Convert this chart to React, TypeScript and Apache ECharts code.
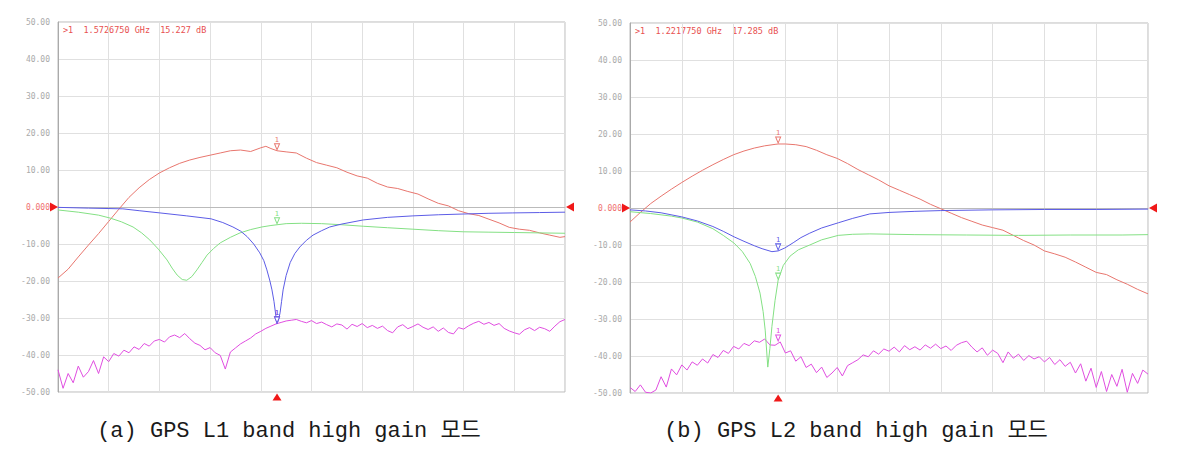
import React, { useEffect, useRef } from "react";
import * as echarts from "echarts";

// x values are percent of frequency span (0..100), y values are dB
const yMin = -50;
const yMax = 50;

const l1Gain: number[][] = [
  [0, -19.2], [2, -16.8], [4, -13.5], [6, -10.3], [8, -7.2], [10, -3.9], [12, -0.6], [14, 2.6], [16, 5.2],
  [18, 7.4], [20, 9.2], [22, 10.6], [24, 11.8], [26, 12.7], [28, 13.4], [30, 14.0], [32, 14.6], [34, 15.2],
  [36, 15.4], [38, 15.0], [40, 16.0], [41, 16.4], [42, 15.8], [43.2, 15.2], [45, 14.9], [47, 14.6], [49, 13.2],
  [51, 12.0], [53, 11.3], [55, 10.6], [57, 9.4], [59, 8.4], [61, 7.8], [63, 6.4], [65, 5.4], [67, 5.0],
  [69, 4.2], [71, 3.5], [73, 2.2], [75, 1.0], [77, 0.3], [79, -1.0], [81, -1.8], [83, -2.3], [85, -3.3],
  [87, -4.3], [89, -5.5], [91, -6.0], [93, -6.3], [95, -7.0], [97, -7.6], [99, -8.2], [100, -8.0],
];

const l1S11: number[][] = [
  [0, -0.1], [6, -0.3], [12.8, -0.5], [16, -1.0], [20.1, -1.6], [25.4, -2.4], [30.2, -3.2], [32.5, -4.2],
  [34.5, -5.4], [36, -6.5], [37.3, -8], [38.6, -10], [39.8, -12.4], [40.6, -14.5], [41.2, -17], [41.8, -20],
  [42.2, -22.4], [42.6, -25.5], [43.0, -29.7], [43.2, -31.6], [43.5, -30.5], [43.8, -28.6], [44.1, -25.5],
  [44.4, -22.4], [45, -18.5], [45.8, -15], [46.7, -12.6], [47.7, -10.8], [49, -9], [50.3, -7.6], [52, -6.4],
  [53.6, -5.4], [56, -4.6], [60.2, -3.5], [65, -2.8], [70, -2.4], [75, -2.1], [79.9, -1.9], [85, -1.7],
  [89.7, -1.6], [95, -1.5], [100, -1.4],
];

const l1S22: number[][] = [
  [0, -0.8], [4, -1.4], [8, -2.2], [10.3, -3], [12.5, -4], [14.8, -5.4], [16.5, -7], [18.1, -8.9], [19.8, -11.4],
  [21.5, -14.3], [22.5, -16.5], [23.5, -18.4], [24.5, -19.6], [25.4, -19.8], [26.4, -18.8], [27.4, -17],
  [28.4, -15], [29.4, -13], [30.7, -11.2], [32, -9.7], [34, -8.2], [35.9, -7], [38, -6.1], [40.2, -5.4],
  [42, -5.0], [43.2, -4.8], [45, -4.5], [48, -4.4], [52, -4.5], [56, -4.8], [60.2, -5.2], [65, -5.6],
  [70, -6], [75, -6.4], [79.9, -6.7], [85, -6.8], [90, -6.9], [95, -7], [100, -7.1],
];

// one value per percent of span
const l1Iso: number[] = [
  -44, -49, -45, -47.5, -43, -46, -44.5, -41.5, -45, -40.5,
  -41.8, -39.6, -40.3, -38.7, -39.4, -37.8, -38.5, -36.9, -37.6, -36.2,
  -35.8, -36.5, -35.1, -34.6, -35.3, -34.2, -35.6, -36.8, -37.4, -38.6,
  -38.0, -39.4, -40.1, -43.8, -39.2, -38.1, -37.0, -36.2, -35.4, -34.3,
  -33.6, -32.8, -32.2, -31.6, -31.2, -30.8, -30.6, -30.4, -30.9, -31.3,
  -30.7, -31.5, -31.1, -31.8, -32.4, -31.6, -31.9, -33.0, -31.7, -32.3,
  -31.5, -32.6, -32.0, -32.8, -32.2, -33.4, -34.0, -32.4, -31.8, -32.9,
  -32.3, -31.6, -32.5, -33.1, -32.4, -33.6, -32.7, -33.9, -34.3, -32.6,
  -33.0, -32.1, -31.4, -30.9, -31.7, -31.2, -32.0, -31.5, -32.8, -33.5,
  -34.0, -34.4, -33.2, -32.6, -33.4, -32.5, -32.9, -33.6, -32.2, -31.0,
  -30.4,
];

const l2Gain: number[][] = [
  [0, -3.8], [2, -1.2], [4, 1.2], [6, 3.2], [8, 5.1], [10, 6.9], [12, 8.6], [14, 10.2], [16, 11.7], [18, 13.1],
  [20, 14.4], [22, 15.4], [24, 16.2], [26, 16.8], [28, 17.2], [28.6, 17.3], [30, 17.3], [32, 17.1], [34, 16.6],
  [36, 15.6], [38, 14.4], [40, 13.4], [42, 12.0], [44, 10.4], [46, 9.0], [48, 7.6], [50, 6.0], [52, 4.8],
  [54, 3.6], [56, 2.4], [58, 1.0], [60, -0.2], [62, -1.4], [64, -2.6], [66, -3.6], [68, -4.6], [70, -5.3],
  [72, -6.0], [74, -7.4], [76, -8.8], [78, -10.0], [80, -11.6], [82, -12.4], [84, -13.3], [86, -14.6],
  [88, -16.0], [90, -17.4], [92, -18.0], [94, -19.4], [96, -20.6], [98, -22.0], [100, -23.2],
];

const l2S11: number[][] = [
  [0, -0.5], [3, -0.8], [6, -1.3], [10, -2.4], [13, -3.5], [16, -5], [18, -6.3], [20.1, -7.8], [22, -9],
  [24, -10.2], [25.5, -11], [27.4, -11.8], [28.6, -11.6], [29.9, -10.8], [31.5, -9.4], [33, -8], [34.7, -6.8],
  [37, -5.4], [40.2, -4], [43, -2.8], [46.3, -1.6], [50, -1.2], [55, -0.9], [60, -0.7], [70, -0.5], [80, -0.4],
  [90, -0.4], [100, -0.3],
];

const l2S22: number[][] = [
  [0, -1], [4, -1.5], [8, -2.2], [10, -2.7], [13, -3.8], [16, -5.6], [18, -7.4], [20.1, -9.5], [21.7, -11.8],
  [23.2, -15], [24.2, -18.5], [25.1, -23], [25.7, -28], [26.1, -33], [26.6, -43], [27.0, -38], [27.4, -32],
  [28, -25], [28.6, -19.5], [29.6, -15.5], [30.9, -13], [32.5, -11.3], [34.7, -10], [37, -8.6], [40.2, -7.4],
  [43, -7.1], [46.3, -7], [55, -7.2], [65, -7.3], [75, -7.4], [85, -7.3], [95, -7.3], [100, -7.2],
];

const l2Iso: number[] = [
  -48.5, -49.6, -47.8, -49.8, -50, -49.2, -45.6, -48.4, -43.5, -45.1,
  -42.4, -43.8, -41.6, -42.5, -40.8, -41.9, -39.6, -40.4, -38.5, -39.3,
  -37.4, -38.1, -36.6, -37.2, -35.9, -36.3, -35.4, -37.0, -37.1, -36.2,
  -39.2, -38.6, -41.4, -40.2, -43.1, -42.2, -44.5, -43.0, -45.8, -44.6,
  -43.1, -45.4, -42.6, -41.8, -41.0, -39.7, -40.2, -38.6, -39.5, -38.1,
  -38.7, -37.6, -38.9, -37.2, -38.3, -37.5, -38.4, -37.0, -37.9, -36.8,
  -38.0, -37.3, -38.5, -37.1, -36.4, -36.0, -37.6, -38.9, -37.8, -39.8,
  -38.4, -39.3, -41.8, -38.9, -40.6, -39.5, -41.2, -39.9, -40.8, -40.2,
  -41.6, -40.4, -42.3, -41.0, -42.8, -41.7, -44.6, -42.1, -46.8, -43.3,
  -48.5, -44.2, -49.6, -45.0, -48.2, -43.6, -49.8, -44.7, -47.4, -43.8,
  -44.9,
];

const markerX = [43.2, 28.6];
const readouts = [">1  1.5726750 GHz  15.227 dB", ">1  1.2217750 GHz  17.285 dB"];
const captions = ["(a) GPS L1 band high gain 모드", "(b) GPS L2 band high gain 모드"];

const colors = { gain: "#e8766e", s11: "#5c5ce6", s22: "#84e084", iso: "#e04ee0" };
const refRed = "#f01818";

const gridBoxes = [
  { left: 58, top: 22, width: 507, height: 370 },
  { left: 630, top: 23, width: 518, height: 370 },
];
const captionCenters = [289, 856];

function nearest(data: number[][], x: number): number {
  let best = data[0];
  for (const p of data) if (Math.abs(p[0] - x) < Math.abs(best[0] - x)) best = p;
  return best[1];
}

function traceMarker(color: string, x: number, y: number) {
  return {
    coord: [x, y],
    symbol: "triangle",
    symbolRotate: 180,
    symbolSize: [5, 6],
    symbolOffset: [0, -4],
    itemStyle: { color: "#ffffff", borderColor: color, borderWidth: 1 },
    label: { show: true, formatter: "1", position: "top", distance: 0, color, fontSize: 7, fontFamily: "DejaVu Sans" },
  };
}

function refMarkers(mx: number) {
  return [
    { coord: [0, 0], symbol: "triangle", symbolRotate: -90, symbolSize: [9, 8], symbolOffset: [-4, 0], itemStyle: { color: refRed }, label: { show: false } },
    { coord: [100, 0], symbol: "triangle", symbolRotate: 90, symbolSize: [9, 8], symbolOffset: [5, 0], itemStyle: { color: refRed }, label: { show: false } },
    { coord: [mx, yMin], symbol: "triangle", symbolSize: [9, 7], symbolOffset: [0, 5], itemStyle: { color: refRed }, label: { show: false } },
  ];
}

function panelSeries(idx: number, gain: number[][], s11: number[][], s22: number[][], iso: number[]) {
  const mx = markerX[idx];
  const isoData = iso.map((v, i) => [i, v]);
  const base = { type: "line", xAxisIndex: idx, yAxisIndex: idx, showSymbol: false, symbol: "none", lineStyle: { width: 1 }, z: 2 };
  return [
    {
      ...base, name: `iso${idx}`, data: isoData, lineStyle: { width: 1, color: colors.iso }, itemStyle: { color: colors.iso },
      markPoint: { silent: true, data: [traceMarker(colors.iso, mx, nearest(isoData, mx))] },
    },
    {
      ...base, name: `gain${idx}`, data: gain, lineStyle: { width: 1, color: colors.gain }, itemStyle: { color: colors.gain },
      markPoint: { silent: true, data: [traceMarker(colors.gain, mx, nearest(gain, mx)), ...refMarkers(mx)] },
    },
    {
      ...base, name: `s22${idx}`, data: s22, lineStyle: { width: 1, color: colors.s22 }, itemStyle: { color: colors.s22 },
      markPoint: { silent: true, data: [traceMarker(colors.s22, mx, nearest(s22, mx))] },
    },
    {
      ...base, name: `s11${idx}`, data: s11, lineStyle: { width: 1, color: colors.s11 }, itemStyle: { color: colors.s11 },
      markPoint: { silent: true, data: [traceMarker(colors.s11, mx, nearest(s11, mx))] },
    },
  ];
}

export default function App() {
  const ref = useRef<HTMLDivElement>(null);
  useEffect(() => {
    if (!ref.current) return;
    const chart = echarts.init(ref.current, null, { renderer: "svg" });
    const xAxes = gridBoxes.map((_, i) => ({
      type: "value", gridIndex: i, min: 0, max: 100, interval: 10,
      axisLabel: { show: false }, axisTick: { show: false },
      axisLine: { show: true, lineStyle: { color: "#bbbbbb" } },
      splitLine: { show: true, lineStyle: { color: "#e0e0e0", width: 1 } },
    }));
    const yAxes = gridBoxes.map((_, i) => ({
      type: "value", gridIndex: i, min: yMin, max: yMax, interval: 10,
      axisTick: { show: false },
      axisLine: { show: true, lineStyle: { color: "#aaaaaa" } },
      splitLine: { show: true, lineStyle: { color: "#e0e0e0", width: 1 } },
      axisLabel: {
        margin: 8, fontSize: 8, fontFamily: "DejaVu Sans Mono", color: "#aaaaaa",
        formatter: (v: number) => (v === 0 ? "{z|0.000}" : v.toFixed(2)),
        rich: { z: { color: "#f07070", fontSize: 8, fontFamily: "DejaVu Sans Mono" } },
      },
    }));
    chart.setOption({
      animation: false,
      backgroundColor: "#ffffff",
      grid: gridBoxes.map((g) => ({ ...g, show: true, borderColor: "#bbbbbb", borderWidth: 1, backgroundColor: "transparent" })),
      xAxis: xAxes,
      yAxis: yAxes,
      series: [
        ...panelSeries(0, l1Gain, l1S11, l1S22, l1Iso),
        ...panelSeries(1, l2Gain, l2S11, l2S22, l2Iso),
      ],
      graphic: [
        ...gridBoxes.map((g, i) => ({
          type: "text", left: g.left + 5, top: g.top + 3,
          style: { text: readouts[i], fill: "#e85050", font: "8.5px 'DejaVu Sans Mono'" },
        })),
        ...captionCenters.map((cx, i) => ({
          type: "text", x: cx, y: 431,
          style: { text: captions[i], fill: "#1a1a1a", font: "22px 'Liberation Mono', 'Noto Sans CJK KR'", textAlign: "center", textVerticalAlign: "middle" },
        })),
      ],
    });
    return () => chart.dispose();
  }, []);
  return <div ref={ref} style={{ position: "fixed", left: 0, top: 0, width: 1179, height: 451 }} />;
}
